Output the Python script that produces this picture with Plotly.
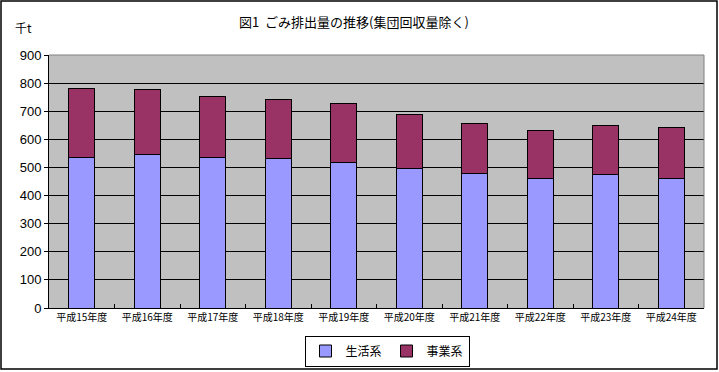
import plotly.graph_objects as go

categories = ["平成15年度", "平成16年度", "平成17年度", "平成18年度", "平成19年度",
              "平成20年度", "平成21年度", "平成22年度", "平成23年度", "平成24年度"]
household = [536, 547, 536, 533, 518, 497, 479, 461, 476, 461]
business = [245, 231, 217, 209, 210, 192, 178, 171, 174, 182]
y_ticks = [0, 100, 200, 300, 400, 500, 600, 700, 800, 900]

W, H = 719, 372
L, R, T, B = 49, 15, 55, 64
pw, ph = W - L - R, H - T - B

fig = go.Figure()
fig.add_trace(go.Bar(x=categories, y=household, name="生活系",
                     marker=dict(color="#9999FF", line=dict(color="black", width=1))))
fig.add_trace(go.Bar(x=categories, y=business, name="事業系",
                     marker=dict(color="#993366", line=dict(color="black", width=1))))

cjk = "Noto Sans CJK JP"
fig.update_layout(
    width=W, height=H, barmode="stack", bargap=0.6,
    margin=dict(l=L, r=R, t=T, b=B, autoexpand=False),
    paper_bgcolor="white", plot_bgcolor="#C0C0C0",
    title=dict(text="図1  ごみ排出量の推移(集団回収量除く)", x=354 / W, xanchor="center",
               y=1 - 22 / H, yanchor="middle", font=dict(family=cjk, size=13, color="black")),
    legend=dict(orientation="h", xref="container", x=387 / W, xanchor="center",
                yref="container", y=1 - 351 / H, yanchor="middle",
                bgcolor="white", bordercolor="black", borderwidth=1,
                font=dict(family=cjk, size=12, color="black"), traceorder="normal",
                itemwidth=30),
    xaxis=dict(type="category", showgrid=False, showline=True, linecolor="black", linewidth=1,
               ticks="inside", tickson="boundaries", ticklen=4, tickcolor="black", tickangle=0,
               automargin=False,
               tickfont=dict(family=cjk, size=10, color="black"), mirror=False),
    yaxis=dict(range=[0, 900], tickvals=y_ticks, showgrid=True, gridcolor="black", gridwidth=1,
               showline=True, linecolor="black", linewidth=1, ticks="outside", ticklen=4,
               tickcolor="black", automargin=False,
               tickfont=dict(family="Liberation Sans", size=13, color="black"),
               zeroline=False),
    showlegend=True,
    annotations=[dict(text="千t", xref="paper", yref="paper", x=-(L - 13) / pw, xanchor="left",
                      y=1 + (T - 28) / ph, yanchor="middle", showarrow=False,
                      font=dict(family=cjk, size=12, color="black"))],
    shapes=[
        dict(type="line", xref="paper", yref="paper", x0=0, x1=1, y0=1, y1=1,
             line=dict(color="#808080", width=1)),
        dict(type="line", xref="paper", yref="paper", x0=1, x1=1, y0=0, y1=1,
             line=dict(color="#808080", width=1)),
        dict(type="rect", xref="paper", yref="paper",
             x0=-(L - 1) / pw, x1=(717 - L) / pw, y0=-(369 - (H - B)) / ph, y1=(H - B - 1) / ph,
             line=dict(color="black", width=1.5)),
    ],
)
fig.write_html("out.html", config={"displayModeBar": False},
               post_script="document.body.style.margin='0px';")
